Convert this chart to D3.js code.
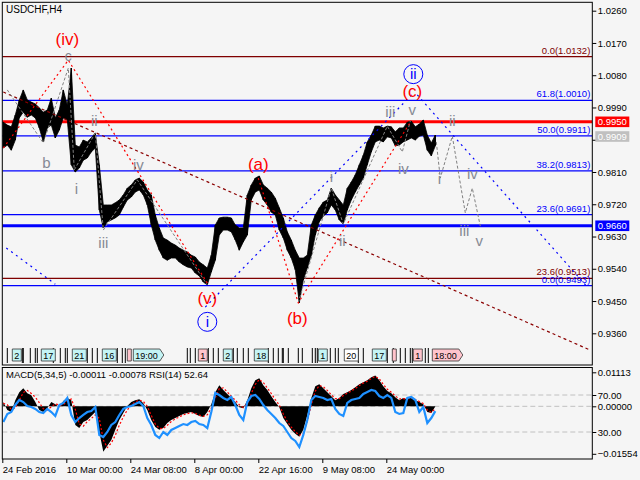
<!DOCTYPE html>
<html><head><meta charset="utf-8">
<script src="https://cdnjs.cloudflare.com/ajax/libs/d3/7.8.5/d3.min.js"></script>
<style>
html,body{margin:0;padding:0;background:#f5f5f5;}
svg{display:block;font-family:"Liberation Sans",Arial,sans-serif;}
</style></head><body>
<svg id="c" width="640" height="480"></svg>
<script>
// ---------------- DATA ----------------
const symbolTitle = "USDCHF,H4";
const sampleStep = 4; // H4 bars between samples
const priceHigh = [0.9949,0.9941,0.9936,0.9969,1.0011,1.0039,1.0011,1.0005,1.0000,0.9989,
 0.9977,0.9983,1.0016,0.9961,0.9983,1.0039,0.9997,1.0100,0.9885,0.9880,
 0.9899,0.9894,0.9905,0.9919,0.9830,0.9718,0.9718,0.9718,0.9724,0.9732,
 0.9746,0.9765,0.9774,0.9788,0.9793,0.9782,0.9760,0.9746,0.9690,0.9654,
 0.9626,0.9620,0.9612,0.9606,0.9598,0.9592,0.9587,0.9578,0.9573,0.9559,
 0.9551,0.9542,0.9578,0.9662,0.9682,0.9684,0.9684,0.9682,0.9662,0.9654,
 0.9654,0.9746,0.9774,0.9793,0.9799,0.9774,0.9765,0.9754,0.9737,0.9710,
 0.9682,0.9643,0.9620,0.9592,0.9570,0.9570,0.9578,0.9662,0.9690,0.9710,
 0.9726,0.9732,0.9765,0.9746,0.9732,0.9718,0.9765,0.9782,0.9802,0.9830,
 0.9857,0.9894,0.9913,0.9938,0.9938,0.9933,0.9938,0.9936,0.9922,0.9933,
 0.9933,0.9949,0.9952,0.9936,0.9944,0.9955,0.9913,0.9891,0.9913];
const priceLow = [0.9877,0.9885,0.9871,0.9899,0.9961,0.9977,0.9963,0.9969,0.9961,0.9933,
 0.9894,0.9933,0.9941,0.9905,0.9927,0.9961,0.9955,0.9830,0.9810,0.9821,
 0.9843,0.9849,0.9866,0.9877,0.9704,0.9654,0.9671,0.9676,0.9682,0.9690,
 0.9712,0.9732,0.9740,0.9754,0.9760,0.9746,0.9718,0.9662,0.9620,0.9592,
 0.9570,0.9564,0.9570,0.9570,0.9559,0.9551,0.9545,0.9542,0.9528,0.9520,
 0.9503,0.9495,0.9531,0.9564,0.9634,0.9648,0.9648,0.9643,0.9620,0.9592,
 0.9615,0.9634,0.9732,0.9754,0.9760,0.9732,0.9718,0.9698,0.9690,0.9648,
 0.9626,0.9592,0.9570,0.9537,0.9445,0.9509,0.9542,0.9578,0.9634,0.9671,
 0.9687,0.9696,0.9718,0.9704,0.9676,0.9665,0.9704,0.9732,0.9754,0.9774,
 0.9793,0.9830,0.9866,0.9894,0.9899,0.9894,0.9908,0.9905,0.9883,0.9885,
 0.9894,0.9899,0.9905,0.9899,0.9910,0.9913,0.9871,0.9855,0.9883];
const macdMain = [0.0014,-0.0012,-0.0019,0.0020,0.0046,0.0059,0.0043,0.0036,0.0014,-0.0012,
 -0.0019,-0.0006,0.0014,0.0007,-0.0003,0.0017,0.0027,0.0020,-0.0061,-0.0071,
 -0.0051,-0.0045,-0.0032,-0.0019,-0.0084,-0.0149,-0.0129,-0.0110,-0.0077,-0.0045,
 -0.0022,0.0001,0.0014,0.0020,0.0023,0.0010,-0.0012,-0.0045,-0.0068,-0.0077,
 -0.0071,-0.0055,-0.0045,-0.0038,-0.0032,-0.0025,-0.0022,-0.0019,-0.0025,-0.0032,
 -0.0035,-0.0019,0.0007,0.0046,0.0069,0.0053,0.0040,0.0027,0.0014,-0.0003,
 -0.0006,0.0020,0.0059,0.0085,0.0092,0.0069,0.0053,0.0033,0.0014,-0.0003,
 -0.0038,-0.0058,-0.0077,-0.0090,-0.0100,-0.0077,-0.0029,0.0027,0.0066,0.0072,
 0.0059,0.0046,0.0033,0.0020,0.0027,0.0040,0.0046,0.0053,0.0062,0.0072,
 0.0079,0.0085,0.0095,0.0101,0.0085,0.0066,0.0050,0.0043,0.0030,0.0020,
 0.0027,0.0023,0.0030,0.0020,0.0014,0.0007,-0.0019,-0.0022,-0.0001];
const macdSignal = [0.0010,0.0005,-0.0010,-0.0005,0.0020,0.0045,0.0052,0.0042,0.0030,0.0012,
 -0.0008,-0.0012,-0.0002,0.0008,0.0004,0.0005,0.0018,0.0024,-0.0010,-0.0058,
 -0.0065,-0.0050,-0.0040,-0.0028,-0.0040,-0.0110,-0.0135,-0.0120,-0.0095,-0.0062,
 -0.0035,-0.0012,0.0005,0.0015,0.0020,0.0016,0.0000,-0.0030,-0.0058,-0.0072,
 -0.0073,-0.0062,-0.0050,-0.0041,-0.0035,-0.0028,-0.0024,-0.0021,-0.0023,-0.0029,
 -0.0033,-0.0028,-0.0005,0.0028,0.0058,0.0060,0.0047,0.0033,0.0020,0.0005,
 -0.0004,0.0008,0.0042,0.0072,0.0088,0.0078,0.0060,0.0042,0.0022,0.0004,
 -0.0025,-0.0050,-0.0068,-0.0083,-0.0095,-0.0088,-0.0050,0.0005,0.0050,0.0068,
 0.0064,0.0052,0.0038,0.0025,0.0025,0.0035,0.0043,0.0050,0.0058,0.0068,
 0.0076,0.0082,0.0091,0.0098,0.0090,0.0072,0.0056,0.0046,0.0034,0.0024,
 0.0025,0.0024,0.0028,0.0022,0.0016,0.0009,-0.0012,-0.0020,-0.0008];
const rsiValues = [40.8,49.5,51.6,59.2,64.6,62.4,58.1,57.0,54.9,51.6,
 50.5,54.9,51.6,47.3,59.2,61.4,66.8,48.4,40.8,45.1,
 48.4,51.6,52.7,57.0,26.8,24.6,30.0,37.6,40.8,48.4,
 54.9,57.0,58.1,60.3,62.4,58.1,45.1,37.6,26.8,23.5,
 30.0,26.8,32.2,34.3,36.5,38.6,37.6,40.8,41.9,38.6,
 37.6,34.3,51.6,72.2,70.0,66.8,64.6,67.8,59.2,48.4,
 43.0,62.4,68.9,70.0,65.7,59.2,53.8,49.5,45.1,39.7,
 36.5,30.0,23.5,20.3,13.8,26.8,43.0,64.6,68.9,67.8,
 66.8,64.6,65.7,54.9,49.5,47.3,61.4,64.6,65.7,66.8,
 71.1,73.2,75.4,74.3,68.9,66.8,70.0,66.8,51.6,49.5,
 50.5,66.8,67.8,64.6,51.6,57.0,39.7,45.1,52.6];

const priceTicks = [1.0260,1.0170,1.0080,0.9990,0.9900,0.9810,0.9720,0.9630,0.9540,0.9450,0.9360];
const hiddenPriceTicks = [0.9900]; // covered by the last-price tag
const macdTicks = [0.01113,0.00000,-0.01554];
const rsiTicks = [70,30];
const timeLabels = ["24 Feb 2016","10 Mar 00:00","24 Mar 08:00","8 Apr 00:00","22 Apr 16:00","9 May 08:00","24 May 00:00"];
const timeLabelBars = [0,64,128,192,256,320,384];
const macdHeader = "MACD(5,34,5) -0.00011 -0.00078 RSI(14) 52.64";

// Fibonacci levels
const fibPrices = [1.0132,1.0010,0.9911,0.9813,0.9691,0.9513,0.9493];
const fibNames  = ["0.0","61.8","50.0","38.2","23.6","23.6","0.0"];
const fibGroup  = [1,0,0,0,0,1,0]; // 1 = outer (brown) grid, 0 = inner (blue) grid
// horizontal levels
const resistanceLevel = 0.9950;
const supportLevel = 0.9660;
const lastPrice = 0.9909;

// wave lines [bar, price]
const waveRed1 = [[1,0.9877],[66,1.0122],[205,0.9500]];
const waveRed2 = [[256,0.9793],[296,0.9445],[408,0.9949]];
const trendBrown = [[1,1.0033],[588,0.9313]];
const trendBlueLeft = [[4,0.9598],[53,0.9497]];
const trendBlueUp = [[203,0.9433],[411,1.0030]];
const trendBlueDown = [[415,1.0025],[586,0.9486]];
const subWavesA = [[5,1.0039],[41,0.9891],[66,1.0100],[72,0.9816],[93,0.9919],[101,0.9648],[135,0.9788],[205,0.9495]];
const subWavesB = [[296,0.9445],[329,0.9765],[341,0.9665],[385,0.9938],[400,0.9866],[408,0.9952]];
const forecastWaves = [[434,0.9894],[438,0.9793],[450,0.9910],[463,0.9696],[470,0.9765],[478,0.9659]];

// wave labels
const waveText  = ["(iv)","c","ii","b","i","iv","iii","(v)","i","(a)","(b)","i","ii","iii","v","iv","(c)","ii","ii","i","iv","iii","v"];
const waveBar   = [65,66,92,44,74,136,101,205,205,256,295,329,340,388,410,401,410,411,450,437,470,462,477];
const wavePrice = [1.0164,1.0120,0.9938,0.9821,0.9749,0.9816,0.9598,0.9442,0.9392,0.9816,0.9386,0.9782,0.9604,0.9963,0.9969,0.9804,1.0019,1.0083,0.9938,0.9777,0.9790,0.9632,0.9604];
const waveDegree = ["int","sub","sub","sub","sub","sub","sub","int","circ","int","int","sub","sub","sub","sub","sub","int","circ","sub","sub","sub","sub","sub"];

// period separator tags
const tagBars  = [10,39,70,100,125,131,196,221,252,316,342,370,390,411,430];
const tagTexts = ["2","17","21","16","","19:00","1","2","18","1","20","17","","1","18:00"];
const tagKinds = ["c","c","c","c","p","c","p","c","c","c","w","c","p","p","p"];
const tagArrow = [0,0,0,0,0,1,0,0,0,0,0,0,0,0,1];
const markBars = [5,20,21,28,33,35,51,58,63,65,85,90,95,115,120,123,185,188,193,206,211,216,231,235,241,246,266,271,276,280,281,286,296,300,310,313,315,328,333,336,356,361,385,391,398,403,408,410,423,426];

// ---------------- LAYOUT ----------------
const L=2.3, R=592.3, mainTop=2.3, mainBot=365, subTop=367.5, subBot=459;
const x = d3.scaleLinear().domain([0,590]).range([L,R]);
const y = d3.scaleLinear().domain([0.9360,1.0260]).range([333.3,10.7]);
const yM = d3.scaleLinear().domain([-0.01554,0.01113]).range([453.8,372.3]);
const yR = d3.scaleLinear().domain([0,100]).range([459.75,367.25]);
const FONT='"Liberation Sans",Arial,sans-serif';

const svg=d3.select("#c");
svg.append("rect").attr("width",640).attr("height",480).attr("fill","#f5f5f5");
const defs=svg.append("defs");
defs.append("clipPath").attr("id","cm").append("rect").attr("x",L).attr("y",mainTop).attr("width",R-L).attr("height",mainBot-mainTop);
defs.append("clipPath").attr("id","cs").append("rect").attr("x",L).attr("y",subTop).attr("width",R-L).attr("height",subBot-subTop);

const gm=svg.append("g").attr("clip-path","url(#cm)");

// fib lines
fibPrices.forEach((p,i)=>{
  const col = fibGroup[i] ? "#800000" : "#0000ff";
  gm.append("line").attr("x1",L).attr("x2",R).attr("y1",y(p)).attr("y2",y(p)).attr("stroke",col).attr("stroke-width",1.2);
  gm.append("text").attr("x",R-2).attr("y",y(p)-3).attr("text-anchor","end").attr("fill",col)
    .attr("font-size","9.5px").attr("font-family",FONT).text(`${fibNames[i]}(${p.toFixed(4)})`);
});
gm.append("line").attr("x1",L).attr("x2",R).attr("y1",y(resistanceLevel)).attr("y2",y(resistanceLevel)).attr("stroke","#ff0000").attr("stroke-width",3);
gm.append("line").attr("x1",L).attr("x2",R).attr("y1",y(supportLevel)).attr("y2",y(supportLevel)).attr("stroke","#0000ff").attr("stroke-width",3);

// price bars
const bars = priceHigh.map((h,k)=>({b:1+k*sampleStep,h,l:priceLow[k]}));
gm.append("path").datum(bars)
  .attr("d",d3.area().x(d=>x(d.b)).y0(d=>y(d.l)).y1(d=>y(d.h)))
  .attr("fill","#000").attr("stroke","#000").attr("stroke-width",0.8);
gm.selectAll("line.bar").data(bars).join("line").attr("class","bar")
  .attr("x1",d=>x(d.b)).attr("x2",d=>x(d.b)).attr("y1",d=>y(d.h)).attr("y2",d=>y(d.l))
  .attr("stroke","#000").attr("stroke-width",1.4);

// wave / trend lines
const pl = d3.line().x(d=>x(d[0])).y(d=>y(d[1]));
function dline(pts,col,dash,w){ gm.append("path").attr("d",pl(pts)).attr("fill","none").attr("stroke",col).attr("stroke-width",w||1).attr("stroke-dasharray",dash); }
dline(trendBrown,"#8b0000","3,3",1.2);
dline(trendBlueLeft,"#0000ff","2,4",1.2);
dline(trendBlueUp,"#0000ff","2,4",1.2);
dline(trendBlueDown,"#0000ff","2,4",1.2);
dline(subWavesA,"#808080","3,2",1);
dline(subWavesB,"#808080","3,2",1);
dline(forecastWaves,"#808080","3,2",1);
dline(waveRed1,"#ff0000","2,3",1.2);
dline(waveRed2,"#ff0000","2,3",1.2);

// wave labels
waveText.forEach((t,i)=>{
  const cx=x(waveBar[i]), cy=y(wavePrice[i]), deg=waveDegree[i];
  if(deg==="circ"){
    gm.append("circle").attr("cx",cx).attr("cy",cy).attr("r",9.5).attr("fill","none").attr("stroke","#0000ff").attr("stroke-width",1);
    gm.append("text").attr("x",cx).attr("y",cy+5).attr("text-anchor","middle").attr("fill","#0000ff")
      .attr("font-size","15px").attr("font-family",FONT).text(t);
  } else {
    gm.append("text").attr("x",cx).attr("y",cy).attr("text-anchor","middle")
      .attr("fill",deg==="int"?"#ff0000":"#858a94")
      .attr("font-size",deg==="int"?"17px":(t==="c"?"14px":"15px")).attr("font-family",FONT).text(t);
  }
});

// period separators / tags
const tagY0=349, tagH=12;
markBars.forEach(b=>{
  gm.append("line").attr("x1",x(b)).attr("x2",x(b)).attr("y1",348).attr("y2",363).attr("stroke","#000").attr("stroke-width",1);
});
tagBars.forEach((b,i)=>{
  const g=gm.append("g");
  const fill = tagKinds[i]==="c" ? "#c4f4f4" : (tagKinds[i]==="p" ? "#ffc4cc" : "#ffffff");
  const tx = g.append("text").attr("x",x(b)+2).attr("y",tagY0+9.5).attr("font-size","9px").attr("font-family",FONT).attr("fill","#000").text(tagTexts[i]);
  const w = Math.max(3,(tx.node().getComputedTextLength()||0)+4);
  const x0=x(b), y0=tagY0;
  let d = `M${x0},${y0}H${x0+w}`;
  if(tagArrow[i]) d += `L${x0+w+4},${y0+tagH/2}L${x0+w},${y0+tagH}`; else d += `V${y0+tagH}`;
  d += `H${x0}Z`;
  g.insert("path","text").attr("d",d).attr("fill",fill).attr("stroke","#333").attr("stroke-width",0.8);
});

// title
svg.append("text").attr("x",6).attr("y",13).attr("font-size","10px").attr("font-family",FONT).attr("fill","#000").text(symbolTitle);

// ---------------- SUB WINDOW ----------------
const gs=svg.append("g").attr("clip-path","url(#cs)");
[yR(70),yM(0),yR(30)].forEach(v=>{
  gs.append("line").attr("x1",L).attr("x2",R).attr("y1",v).attr("y2",v).attr("stroke","#c0c0c0").attr("stroke-dasharray","5,3");
});
const sub = macdMain.map((m,k)=>({b:1+k*sampleStep,m,s:macdSignal[k],r:rsiValues[k]}));
gs.append("path").datum(sub).attr("d",d3.area().x(d=>x(d.b)).y0(yM(0)).y1(d=>yM(d.m))).attr("fill","#000");
gs.append("path").datum(sub).attr("d",d3.line().x(d=>x(d.b)).y(d=>yM(d.s))).attr("fill","none").attr("stroke","#ff0000").attr("stroke-width",1.2).attr("stroke-dasharray","2,2");
gs.append("path").datum(sub).attr("d",d3.line().x(d=>x(d.b)).y(d=>yR(d.r))).attr("fill","none").attr("stroke","#1e90ff").attr("stroke-width",2.2);
svg.append("text").attr("x",6).attr("y",378).attr("font-size","9.5px").attr("font-family",FONT).attr("fill","#000").text(macdHeader);

// ---------------- FRAMES ----------------
svg.append("rect").attr("x",L).attr("y",mainTop).attr("width",R-L).attr("height",mainBot-mainTop).attr("fill","none").attr("stroke","#000").attr("stroke-width",1);
svg.append("rect").attr("x",L).attr("y",subTop).attr("width",R-L).attr("height",subBot-subTop).attr("fill","none").attr("stroke","#000").attr("stroke-width",1);

// ---------------- AXES ----------------
function styleAxis(g,dx){
  g.select(".domain").remove();
  g.attr("font-family",FONT).attr("font-size","9.5px");
  g.selectAll("text").attr("fill","#000");
  if(dx!==undefined) g.selectAll("text").attr("x",dx);
}
const fmt4 = d3.format(".4f");
const gy=svg.append("g").attr("transform",`translate(${R},0)`)
  .call(d3.axisRight(y).tickValues(priceTicks).tickFormat(d=>hiddenPriceTicks.includes(d)?"":fmt4(d)).tickSize(4).tickSizeOuter(0));
styleAxis(gy,5.5);
const gM=svg.append("g").attr("transform",`translate(${R},0)`)
  .call(d3.axisRight(yM).tickValues(macdTicks).tickFormat(d3.format(".5f")).tickSize(4).tickSizeOuter(0));
styleAxis(gM,5.5);
const gR=svg.append("g").attr("transform",`translate(${R},0)`)
  .call(d3.axisRight(yR).tickValues(rsiTicks).tickFormat(d3.format(".2f")).tickSize(4).tickSizeOuter(0));
styleAxis(gR,5.5);
const gx=svg.append("g").attr("transform",`translate(0,${subBot})`)
  .call(d3.axisBottom(x).tickValues(timeLabelBars).tickFormat((d,i)=>timeLabels[i]).tickSize(4).tickSizeOuter(0));
styleAxis(gx);
gx.selectAll("text").attr("text-anchor","start").attr("x",0).attr("y",7);

// price tags on axis
function priceTag(p,bg){
  const yy=y(p);
  svg.append("rect").attr("x",R+3).attr("y",yy-5.3).attr("width",34).attr("height",10.6).attr("fill",bg);
  svg.append("text").attr("x",R+5.5).attr("y",yy+3.5).attr("font-size","9.5px").attr("font-family",FONT).attr("fill","#fff").text(p.toFixed(4));
}
priceTag(resistanceLevel,"#ff0000");
priceTag(lastPrice,"#c0c0c0");
priceTag(supportLevel,"#0000ff");
</script>
</body></html>
